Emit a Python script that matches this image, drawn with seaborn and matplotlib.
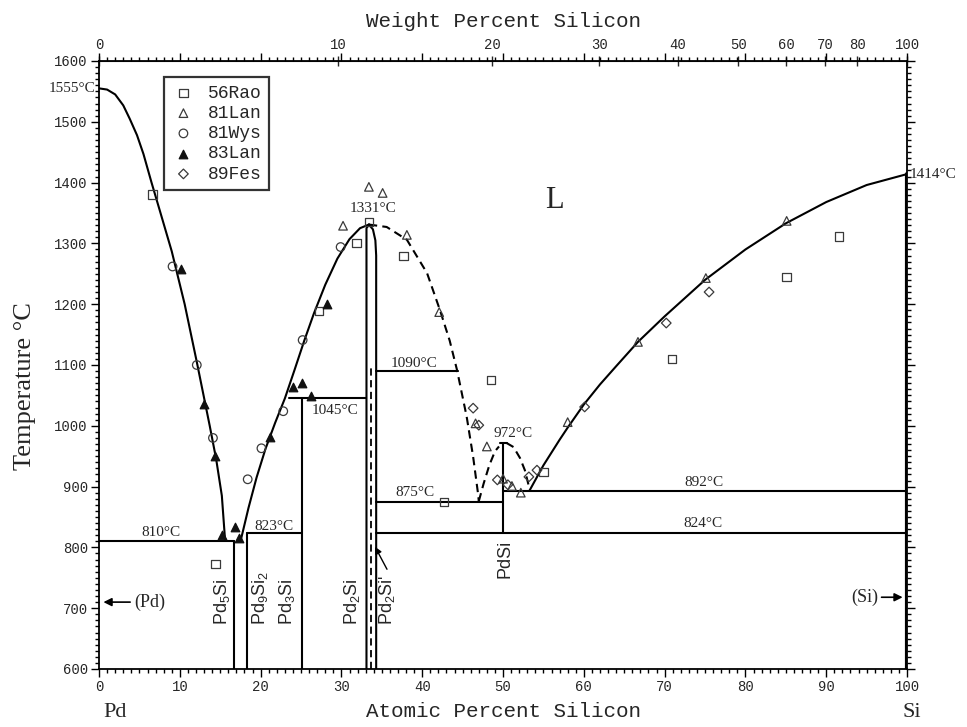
import numpy as np
import matplotlib
matplotlib.use("Agg")
import matplotlib.pyplot as plt
from matplotlib.ticker import MultipleLocator, FixedLocator
import seaborn as sns

# ---------------- data ----------------
# liquidus curves (atomic % Si, temperature °C)
liq_pd_x = [0, 1.0, 2.0, 3.0, 3.8, 4.7, 5.5, 6.5, 7.5, 9.0, 10.6, 12.1, 13.7, 14.5, 15.2, 15.6]
liq_pd_t = [1555, 1553, 1545, 1527, 1505, 1478, 1447, 1400, 1355, 1287, 1200, 1105, 1000, 945, 885, 812]

liq_mid_x = [17.6, 18.5, 19.5, 20.6, 21.8, 23.0, 24.2, 25.4, 26.6, 28.0, 29.5, 31.0, 32.3, 33.4]
liq_mid_t = [815, 865, 915, 962, 1005, 1045, 1092, 1140, 1185, 1232, 1275, 1307, 1325, 1331]

liq_si_x = [53.3, 55.0, 57.0, 58.0, 60.0, 62.0, 64.0, 66.7, 70.0, 75.0, 80.0, 85.0, 90.0, 95.0, 100]
liq_si_t = [894, 935, 977, 997, 1035, 1068, 1098, 1138, 1180, 1240, 1290, 1333, 1368, 1396, 1414]

# dashed (uncertain) liquidus
dash_big_x = [33.4, 35.6, 38.1, 40.6, 42.2, 43.4, 44.3, 45.5, 46.3, 46.9, 47.0]
dash_big_t = [1331, 1327, 1306, 1251, 1190, 1140, 1092, 1015, 949, 889, 876]
dash_l_x = [47.0, 47.6, 48.3, 49.0, 49.5]
dash_l_t = [876, 905, 935, 958, 966]
dash_r_x = [50.4, 51.3, 52.1, 52.7, 53.3]
dash_r_t = [972, 965, 947, 927, 895]

# Pd2Si homogeneity boundaries
pd2si_l_x = [33.1, 33.1, 33.4]
pd2si_l_t = [600, 1325, 1331]
pd2si_r_x = [34.3, 34.3, 34.2, 33.9, 33.4]
pd2si_r_t = [600, 1280, 1305, 1323, 1331]

# vertical phase lines: (x, T_low, T_high)
vert_x = [16.7, 18.3, 25.1, 50.0]
vert_lo = [600, 600, 600, 824]
vert_hi = [810, 823, 1045, 972]

# invariant (horizontal) lines: T, x_start, x_end
iso_t = [810, 823, 1045, 1090, 875, 892, 824, 972]
iso_x0 = [0, 18.3, 23.5, 34.3, 34.3, 50.0, 34.3, 49.6]
iso_x1 = [16.7, 25.1, 33.1, 44.4, 50.0, 100, 100, 50.5]

# experimental points
rao_x = [6.6, 14.4, 27.2, 31.9, 33.4, 37.7, 42.7, 48.5, 55.0, 70.9, 85.1, 91.6]
rao_t = [1380, 773, 1189, 1301, 1335, 1279, 875, 1075, 924, 1110, 1245, 1311]
lan81_x = [30.2, 33.4, 35.1, 38.1, 42.1, 46.6, 48.0, 50.0, 51.1, 52.2, 58.0, 66.7, 75.1, 85.1]
lan81_t = [1329, 1393, 1383, 1314, 1187, 1004, 966, 913, 901, 890, 1006, 1138, 1243, 1337]
wys_x = [9.1, 12.1, 14.1, 18.4, 20.1, 22.8, 25.2, 29.9]
wys_t = [1262, 1100, 980, 912, 963, 1024, 1141, 1294]
lan83_x = [10.1, 13.0, 14.3, 15.2, 16.8, 17.3, 21.2, 24.0, 25.1, 26.2, 28.2]
lan83_t = [1258, 1036, 950, 820, 834, 815, 981, 1064, 1070, 1049, 1200]
fes_x = [46.3, 47.0, 49.3, 50.6, 53.2, 54.2, 60.1, 70.2, 75.5]
fes_t = [1029, 1001, 911, 903, 916, 927, 1031, 1169, 1220]

# labels
at_ticks = [0, 10, 20, 30, 40, 50, 60, 70, 80, 90, 100]
wt_ticks = [0, 10, 20, 30, 40, 50, 60, 70, 80, 100]
t_ticks = [600, 700, 800, 900, 1000, 1100, 1200, 1300, 1400, 1500, 1600]

temp_labels = ["1331°C", "1090°C", "1045°C", "972°C", "875°C", "892°C", "824°C", "810°C", "823°C"]
temp_lab_x = [33.9, 39.0, 29.2, 51.2, 39.1, 74.9, 74.8, 7.7, 21.6]
temp_lab_t = [1358, 1103, 1025, 988, 891, 906, 840, 824, 835]

phase_labels = [r"Pd$_5$Si", r"Pd$_9$Si$_2$", r"Pd$_3$Si", r"Pd$_2$Si", r"Pd$_2$Si'", "PdSi"]
phase_lab_x = [15.2, 19.9, 23.3, 31.3, 35.6, 50.2]
phase_lab_t = [669, 669, 669, 669, 669, 746]

M_SI, M_PD = 28.086, 106.42

# ---------------- style ----------------
sns.set_style("ticks")
plt.rcParams["font.family"] = ["Liberation Serif", "DejaVu Serif"]
plt.rcParams["mathtext.fontset"] = "custom"
plt.rcParams["mathtext.rm"] = "Liberation Sans"
plt.rcParams["mathtext.it"] = "Liberation Sans:italic"

fig = plt.figure(figsize=(9.67, 7.27), dpi=100)
ax = fig.add_axes([0.1024, 0.0798, 0.8356, 0.8363])

K = "black"
LW = 1.5

def seg(x, y, **kw):
    sns.lineplot(x=x, y=y, sort=False, estimator=None, color=K, lw=kw.pop("lw", LW),
                 ax=ax, legend=False, **kw)

seg(liq_pd_x, liq_pd_t)
seg(liq_mid_x, liq_mid_t)
seg(liq_si_x, liq_si_t)
seg(pd2si_l_x, pd2si_l_t)
seg(pd2si_r_x, pd2si_r_t)
for xs, ts in [(dash_big_x, dash_big_t), (dash_l_x, dash_l_t), (dash_r_x, dash_r_t)]:
    seg(xs, ts, linestyle=(0, (4, 2.5)))
seg([33.7, 33.7], [600, 1098], linestyle=(0, (4, 2.5)), lw=1.3)
for x, lo, hi in zip(vert_x, vert_lo, vert_hi):
    seg([x, x], [lo, hi])
for t, x0, x1 in zip(iso_t, iso_x0, iso_x1):
    seg([x0, x1], [t, t])
seg([100, 100], [600, 1414], lw=3)

# experimental points
MC = "#3a3a3a"
common = dict(s=38, linewidth=0.9, ax=ax, zorder=5, clip_on=False)
sns.scatterplot(x=rao_x, y=rao_t, marker="s", facecolor="none", edgecolor=MC, color=MC, label="56Rao", **common)
sns.scatterplot(x=lan81_x, y=lan81_t, marker="^", facecolor="none", edgecolor=MC, color=MC, label="81Lan", **common)
sns.scatterplot(x=wys_x, y=wys_t, marker="o", facecolor="none", edgecolor=MC, color=MC, label="81Wys", **common)
sns.scatterplot(x=lan83_x, y=lan83_t, marker="^", facecolor="#111111", edgecolor="#111111", color="#111111", label="83Lan", **common)
sns.scatterplot(x=fes_x, y=fes_t, marker="D", facecolor="none", edgecolor=MC, color=MC, label="89Fes",
                s=24, linewidth=0.9, ax=ax, zorder=5)

leg = ax.legend(loc="upper left", bbox_to_anchor=(0.081, 0.973), frameon=True, fancybox=False,
                prop={"family": "Liberation Mono", "size": 13}, labelspacing=0.18,
                handletextpad=0.7, borderpad=0.4, handlelength=1.3, borderaxespad=0)
leg.get_frame().set_edgecolor("black")
leg.get_frame().set_linewidth(1.6)

# ---------------- axes ----------------
ax.set_xlim(0, 100)
ax.set_ylim(600, 1600)
ax.xaxis.set_major_locator(FixedLocator(at_ticks))
ax.yaxis.set_major_locator(FixedLocator(t_ticks))
ax.xaxis.set_minor_locator(MultipleLocator(1))
ax.yaxis.set_minor_locator(MultipleLocator(10))
ax.tick_params(which="both", direction="out", top=True, right=True, labeltop=False, labelright=False,
               color=K, width=1.0)
ax.tick_params(which="major", length=6, pad=2, labelsize=10)
ax.tick_params(which="minor", length=3)
for lab in ax.get_xticklabels() + ax.get_yticklabels():
    lab.set_family("Liberation Mono")
for sp in ax.spines.values():
    sp.set_linewidth(1.3)
    sp.set_color(K)

def at2wt(a):
    a = np.asarray(a, dtype=float)
    return 100 * a * M_SI / (a * M_SI + (100 - a) * M_PD)

def wt2at(w):
    w = np.asarray(w, dtype=float)
    return 100 * (w / M_SI) / (w / M_SI + (100 - w) / M_PD)

sec = ax.secondary_xaxis("top", functions=(at2wt, wt2at))
sec.xaxis.set_major_locator(FixedLocator(wt_ticks))
sec.xaxis.set_minor_locator(FixedLocator([]))
sec.tick_params(which="major", direction="inout", length=7, width=1.0, pad=3, labelsize=10)
for lab in sec.get_xticklabels():
    lab.set_family("Liberation Mono")
sec.set_xlabel("Weight Percent Silicon", family="Liberation Mono", fontsize=15, labelpad=8)

ax.set_xlabel("Atomic Percent Silicon", family="Liberation Mono", fontsize=15, labelpad=6)
ax.set_ylabel("")
fig.text(0.026, 0.469, "Temperature °C", rotation=90, ha="center", va="center",
         family="Liberation Serif", fontsize=19)

# ---------------- annotations ----------------
ax.annotate("Pd", xy=(2.0, -0.072), xycoords=("data", "axes fraction"), ha="center", va="center",
            fontsize=16, family="Liberation Serif", annotation_clip=False)
ax.annotate("Si", xy=(100.6, -0.072), xycoords=("data", "axes fraction"), ha="center", va="center",
            fontsize=16, family="Liberation Serif", annotation_clip=False)
ax.text(-0.5, 1555, "1555°C", ha="right", va="center", fontsize=11, clip_on=False)
ax.text(100.3, 1414, "1414°C", ha="left", va="center", fontsize=11, clip_on=False)
ax.text(56.4, 1371, "L", ha="center", va="center", fontsize=22)

for s, x, t in zip(temp_labels, temp_lab_x, temp_lab_t):
    ax.text(x, t, s, ha="center", va="center", fontsize=11)

for s, x, t in zip(phase_labels, phase_lab_x, phase_lab_t):
    ax.text(x, t + 3, s, ha="center", va="bottom", rotation=90, fontsize=13, family="Liberation Sans")

ax.annotate("", xy=(0.2, 710), xytext=(4.2, 710),
            arrowprops=dict(arrowstyle="-|>", color=K, lw=1.2, mutation_scale=12))
ax.text(4.3, 710, "(Pd)", ha="left", va="center", fontsize=13)
ax.annotate("", xy=(99.8, 718), xytext=(96.5, 718),
            arrowprops=dict(arrowstyle="-|>", color=K, lw=1.2, mutation_scale=12))
ax.text(96.4, 718, "(Si)", ha="right", va="center", fontsize=13)
ax.annotate("", xy=(34.0, 805), xytext=(35.8, 760),
            arrowprops=dict(arrowstyle="-|>", color=K, lw=1.0, mutation_scale=10))

fig.savefig("out.png", dpi=100)
